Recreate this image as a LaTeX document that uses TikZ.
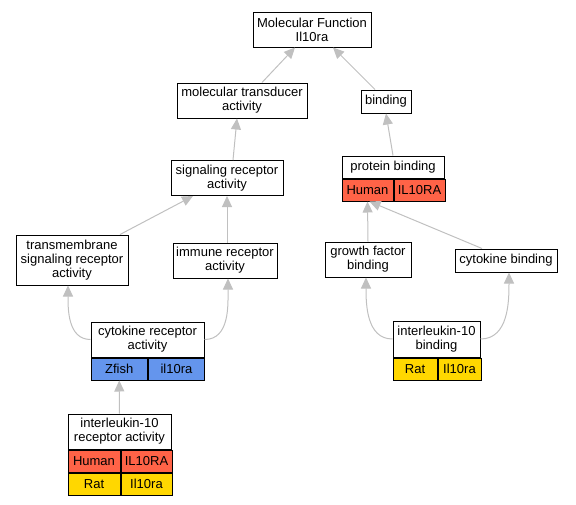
\documentclass[tikz,border=0pt]{standalone}
\usepackage{fontspec}
\setmainfont{Liberation Sans}
\usepackage{tikz}
\usetikzlibrary{positioning,calc,arrows.meta}
\definecolor{human}{HTML}{FF6347}
\definecolor{zfish}{HTML}{6495ED}
\definecolor{rat}{HTML}{FFD700}
\definecolor{edgegray}{HTML}{C0C0C0}
\newcommand*{\txt}{\fontsize{13}{14}\selectfont}

\begin{document}
\begin{tikzpicture}[x=1pt,y=-1pt,
  term/.style={draw,line width=1pt,fill=white,align=center,inner sep=0pt,font=\txt},
  cell/.style={draw,line width=1pt,inner sep=0pt,font=\txt,minimum height=22,anchor=north west},
  isa/.style={draw=edgegray,line width=1pt,-{Triangle[length=11pt,width=10pt]}}]
\useasboundingbox (0,0) rectangle (576,504);
% GO terms, top to bottom
\node[term,minimum width=118,minimum height=35] (mf) at (312,29.5) {Molecular Function\\Il10ra};
\node[term,minimum width=130,minimum height=35] (mt) at (242,100.5) {molecular transducer\\activity};
\node[term,minimum width=50,minimum height=23] (bind) at (386,101.5) {binding};
\node[term,minimum width=112,minimum height=35] (sr) at (227,178) {signaling receptor\\activity};
\node[term,minimum width=102,minimum height=22] (pb) at (393,167) {protein binding};
\node[term,minimum width=112,minimum height=50] (tm) at (72,260) {transmembrane\\signaling receptor\\activity};
\node[term,minimum width=104,minimum height=35] (imm) at (225,260.5) {immune receptor\\activity};
\node[term,minimum width=86,minimum height=35] (gf) at (368,259.5) {growth factor\\binding};
\node[term,minimum width=102,minimum height=23] (cb) at (506,260.5) {cytokine binding};
\node[term,minimum width=113,minimum height=35] (cr) at (147.5,339.5) {cytokine receptor\\activity};
\node[term,minimum width=87,minimum height=36] (il10b) at (436.5,339) {interleukin-10\\binding};
\node[term,minimum width=103,minimum height=35] (il10r) at (119.5,431.5) {interleukin-10\\receptor activity};
% Species rows under the terms
\node[cell,fill=human,minimum width=51] (pbH) at (pb.south west) {Human};
\node[cell,fill=human,minimum width=51] (pbG) at (pbH.north east) {IL10RA};
\node[cell,fill=zfish,minimum width=56.5] (crZ) at (cr.south west) {Zfish};
\node[cell,fill=zfish,minimum width=56] (crG) at (crZ.north east) {il10ra};
\node[cell,fill=rat,minimum width=44] (il10bR) at (il10b.south west) {Rat};
\node[cell,fill=rat,minimum width=43] (il10bG) at (il10bR.north east) {Il10ra};
\node[cell,fill=human,minimum width=52] (il10rH) at (il10r.south west) {Human};
\node[cell,fill=human,minimum width=51] (il10rG) at (il10rH.north east) {IL10RA};
\node[cell,fill=rat,minimum width=52] (il10rR) at (il10rH.south west) {Rat};
\node[cell,fill=rat,minimum width=51] (il10rG2) at (il10rR.north east) {Il10ra};
% is_a edges, child to parent
\draw[isa] ([xshift=20]mt.north) -- ([xshift=-17]mf.south);
\draw[isa] ([xshift=-11]bind.north) -- ([xshift=21]mf.south);
\draw[isa] ([xshift=6]sr.north) -- ([xshift=-5]mt.south);
\draw[isa] (pb.north) -- (bind.south);
\draw[isa] ([xshift=48]tm.north) -- ([xshift=-34]sr.south);
\draw[isa] ([xshift=2]imm.north) -- (sr.south);
\draw[isa] (gf.north) -- (pbH.south);
\draw[isa] ([xshift=-24]cb.north) -- ([xshift=2]pbH.south);
\draw[isa] (cr.west) to[out=180,in=-90] ([xshift=-4]tm.south);
\draw[isa] (cr.east) to[out=0,in=-90] ([xshift=3]imm.south);
\draw[isa] (il10b.west) to[out=180,in=-90] ([xshift=-2]gf.south);
\draw[isa] (il10b.east) to[out=0,in=-90] ([xshift=3]cb.south);
\draw[isa] (il10r.north) -- (crZ.south);
\end{tikzpicture}
\end{document}
